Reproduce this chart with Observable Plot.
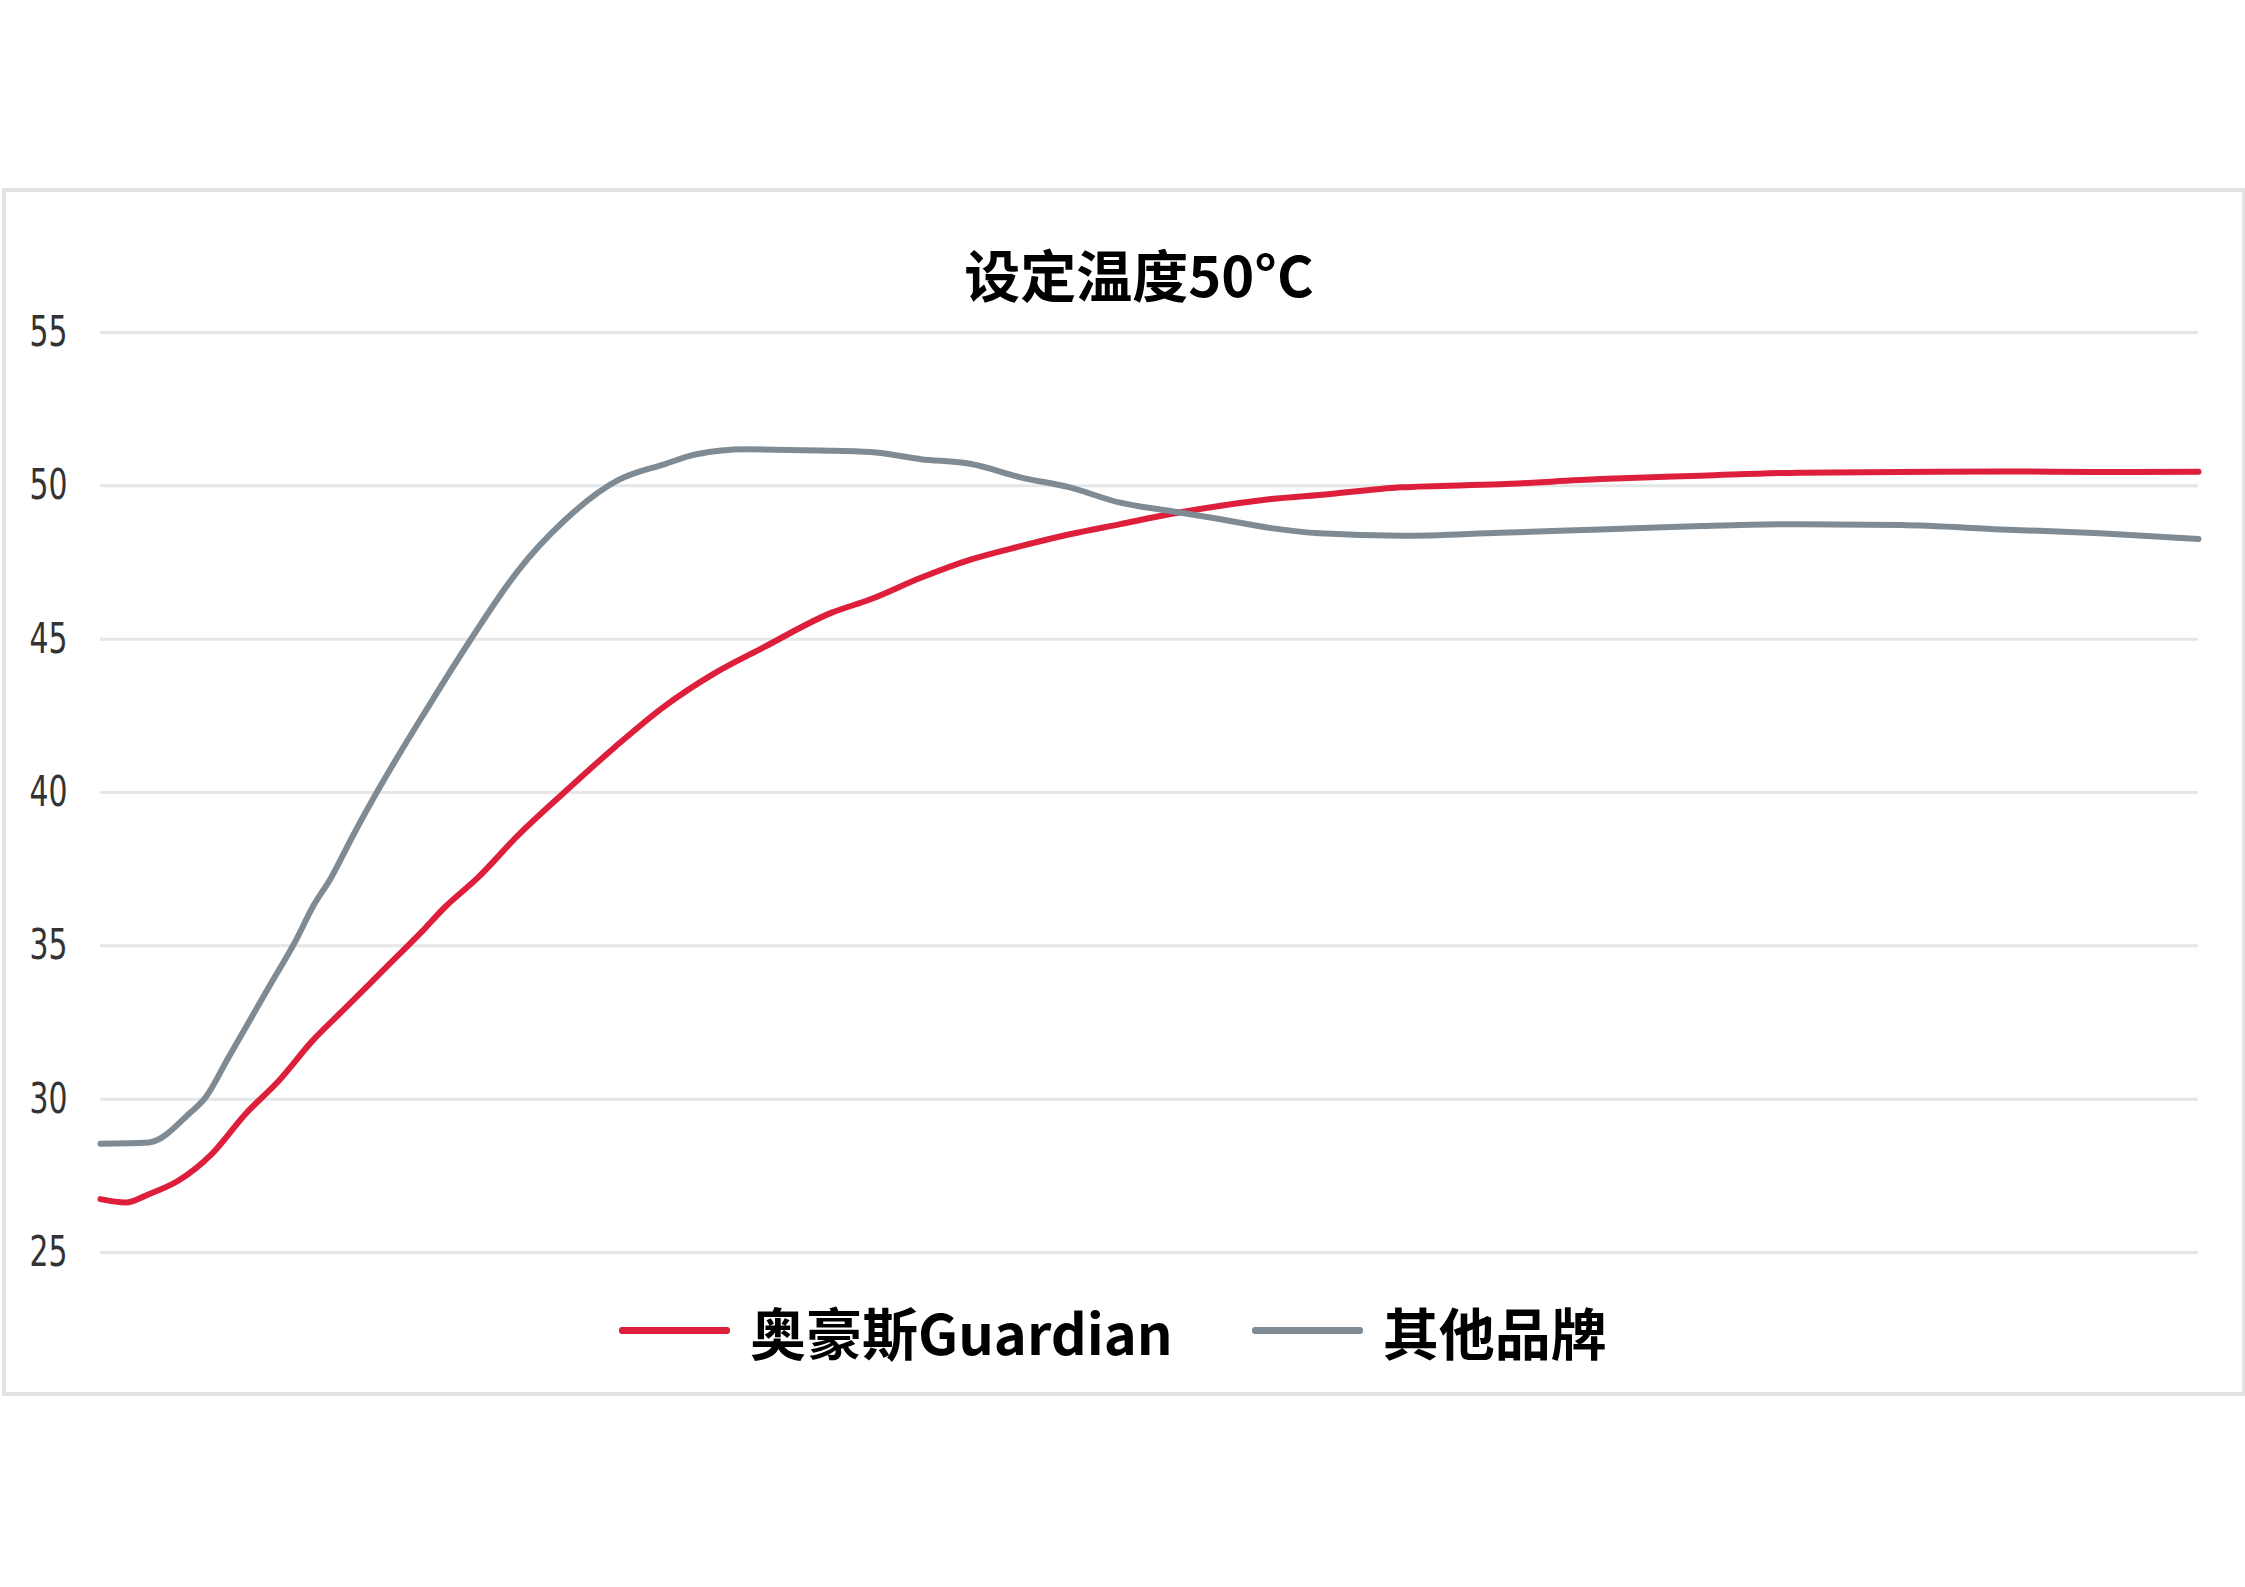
<!DOCTYPE html>
<html>
<head>
<meta charset="utf-8">
<script src="https://cdn.jsdelivr.net/npm/d3@7"></script>
<script src="https://cdn.jsdelivr.net/npm/@observablehq/plot@0.6"></script>
<style>
  html, body { margin: 0; padding: 0; background: #fff; }
  body { width: 2245px; height: 1587px; position: relative; overflow: hidden; }
  #frame { position: absolute; left: 2px; top: 188px; width: 2236px; height: 1200px; border: 4px solid #e1e3e4; box-sizing: content-box; }
  #title { position: absolute; left: 839px; width: 600px; top: 237px; text-align: center;
           font-family: "Noto Sans CJK SC", sans-serif; font-weight: 700; font-size: 56px; line-height: 72px; color: #000; }
  #chart { position: absolute; left: 0; top: 300px; }
  #legend { position: absolute; left: 619px; top: 1294px; height: 72px; display: flex; align-items: center;
            font-family: "Noto Sans CJK SC", sans-serif; font-weight: 700; font-size: 56px; color: #000; }
  .sw { width: 111px; height: 7px; border-radius: 3px; }
</style>
</head>
<body>
<div id="frame"></div>
<div id="title"></div>
<div id="chart"></div>
<div id="legend"></div>
<script>
// Title and series names
const titleText = "设定温度50°C";
const seriesNames = ["奥豪斯Guardian", "其他品牌"];
const seriesColors = ["#de1f3b", "#7e8b94"];

// y-axis ticks
const yTicks = [25, 30, 35, 40, 45, 50, 55];

// Time (% of test duration) and temperature readings — 奥豪斯Guardian
const guardianTime = [0, 1.2, 2.3, 3.7, 5.3, 6.9, 8.5, 10.1, 11.7, 13.6, 15.2, 16.4, 18.0, 19.9, 22.1, 24.5, 26.8, 29.2, 31.6, 34.8, 36.7, 39.1, 41.5, 43.9, 46.2, 48.6, 51.0, 53.4, 55.8, 58.1, 62.0, 66.7, 71.5, 76.3, 81.0, 85.8, 90.6, 95.3, 100];
const guardianTemp = [26.74, 26.63, 26.9, 27.34, 28.21, 29.51, 30.6, 31.9, 32.99, 34.29, 35.38, 36.25, 37.23, 38.6, 40.0, 41.47, 42.77, 43.86, 44.73, 45.85, 46.3, 47.0, 47.6, 48.04, 48.42, 48.75, 49.08, 49.35, 49.57, 49.7, 49.95, 50.05, 50.22, 50.33, 50.43, 50.45, 50.47, 50.45, 50.46];

// Time (% of test duration) and temperature readings — 其他品牌
const otherTime = [0, 2.3, 4.2, 5.0, 6.1, 7.1, 8.2, 9.3, 10.1, 11.0, 12.0, 13.3, 15.6, 17.6, 19.9, 22.1, 24.6, 26.9, 28.4, 30.8, 34.3, 36.7, 39.1, 41.5, 43.9, 46.2, 48.6, 51.0, 53.4, 55.8, 58.1, 62.0, 66.7, 71.5, 76.3, 81.0, 85.8, 90.6, 95.3, 100];
const otherTemp = [28.55, 28.59, 29.51, 30.05, 31.36, 32.55, 33.86, 35.16, 36.25, 37.23, 38.55, 40.16, 42.77, 44.94, 47.23, 48.86, 50.16, 50.71, 51.03, 51.19, 51.15, 51.1, 50.87, 50.71, 50.27, 49.95, 49.45, 49.18, 48.91, 48.62, 48.45, 48.37, 48.47, 48.58, 48.69, 48.75, 48.72, 48.58, 48.45, 48.27];

const rows = [
  ...guardianTime.map((t, i) => ({series: seriesNames[0], t, v: guardianTemp[i]})),
  ...otherTime.map((t, i) => ({series: seriesNames[1], t, v: otherTemp[i]}))
];

document.getElementById("title").textContent = titleText;

const chart = Plot.plot({
  width: 2245,
  height: 1000,
  marginLeft: 100,
  marginRight: 47,
  marginTop: 32,
  marginBottom: 48,
  style: { background: "transparent", fontFamily: "'Liberation Sans Narrow', 'DejaVu Sans Condensed', sans-serif" },
  x: { domain: [0, 100], axis: null },
  y: { domain: [25, 55], ticks: yTicks },
  color: { domain: seriesNames, range: seriesColors },
  marks: [
    Plot.gridY(yTicks, { stroke: "#e4e6e7", strokeOpacity: 1, strokeWidth: 3 }),
    Plot.axisY(yTicks, { tickSize: 0, tickPadding: 33, fontSize: 42, fill: "#333", label: null }),
    Plot.line(rows, { x: "t", y: "v", z: "series", stroke: "series", strokeWidth: 6, curve: "monotone-x" })
  ]
});
// narrow tick labels to match the condensed face of the original
chart.querySelectorAll('g[aria-label="y-axis tick label"] text').forEach(t => {
  t.setAttribute("textLength", "38");
  t.setAttribute("lengthAdjust", "spacingAndGlyphs");
});
document.getElementById("chart").appendChild(chart);

// legend
const lg = document.getElementById("legend");
seriesNames.forEach((name, i) => {
  const sw = document.createElement("div");
  sw.className = "sw";
  sw.style.background = seriesColors[i];
  if (i > 0) sw.style.marginLeft = "79px";
  const tx = document.createElement("span");
  tx.textContent = name;
  tx.style.marginLeft = "20px";
  lg.appendChild(sw);
  lg.appendChild(tx);
});
</script>
</body>
</html>
